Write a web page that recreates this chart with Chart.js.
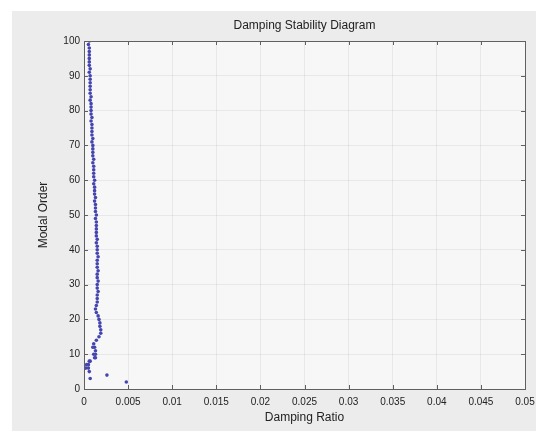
<!DOCTYPE html>
<html>
<head>
<meta charset="utf-8">
<script src="https://cdn.jsdelivr.net/npm/chart.js@4/dist/chart.umd.min.js"></script>
<style>
  html, body { margin: 0; padding: 0; background: #ffffff; }
  #wrap { width: 536px; height: 431px; position: relative; }
</style>
</head>
<body>
<div id="wrap"><canvas id="stabChart"></canvas></div>
<script>
// poles found at each model order (order, damping ratio)
const modelOrder = [
  2, 3, 4, 5, 6, 6, 7, 7, 8, 8, 9, 9, 10, 10, 11, 12,
  12, 13, 14, 15, 16, 17, 18, 19, 20, 21, 22, 23, 24, 25, 26, 27, 28, 29, 30,
  31, 32, 33, 34, 35, 36, 37, 38, 39, 40, 41, 42, 43, 44, 45, 46, 47, 48, 49, 50,
  51, 52, 53, 54, 55, 56, 57, 58, 59, 60, 61, 62, 63, 64, 65, 66, 67, 68, 69, 70,
  71, 72, 73, 74, 75, 76, 77, 78, 79, 80, 81, 82, 83, 84, 85, 86, 87, 88, 89, 90,
  91, 92, 93, 94, 95, 96, 97, 98, 99, 100
];
const dampingRatio = [
  0.0048, 0.0007, 0.0026, 0.0006, 0.0002, 0.0005, 0.0005, 0.0003, 0.0007, 0.0006, 0.0013, 0.0012, 0.0013, 0.0011, 0.0013, 0.0012,
  0.0010, 0.0011, 0.0014, 0.0017, 0.0019, 0.0019, 0.0018, 0.0018, 0.0017, 0.0016, 0.0014, 0.0013, 0.0014, 0.0015, 0.0015, 0.0015, 0.0016, 0.0015, 0.0015,
  0.0016, 0.0015, 0.0015, 0.0016, 0.0015, 0.0015, 0.0015, 0.0016, 0.0015, 0.0015, 0.0015, 0.0014, 0.0015, 0.0014, 0.0014, 0.0014, 0.0014, 0.0014, 0.0013, 0.0014,
  0.0013, 0.0013, 0.0013, 0.0012, 0.0013, 0.0012, 0.0012, 0.0012, 0.0011, 0.0012, 0.0011, 0.0011, 0.0011, 0.0011, 0.0010, 0.0011, 0.0010, 0.0010, 0.0010, 0.0010,
  0.0009, 0.0010, 0.0009, 0.0009, 0.0009, 0.0009, 0.0008, 0.0009, 0.0008, 0.0008, 0.0008, 0.0008, 0.0007, 0.0008, 0.0007, 0.0007, 0.0007, 0.0007, 0.0007, 0.0007,
  0.0006, 0.0007, 0.0006, 0.0006, 0.0006, 0.0006, 0.0006, 0.0006, 0.0005, 0.0006
];
const xTicks = [0, 0.005, 0.01, 0.015, 0.02, 0.025, 0.03, 0.035, 0.04, 0.045, 0.05];
const yTicks = [0, 10, 20, 30, 40, 50, 60, 70, 80, 90, 100];

const points = modelOrder.map((o, i) => ({x: dampingRatio[i], y: o}));

// grey figure background and lighter axes box
const figureBg = {
  id: 'figureBg',
  beforeDraw(chart) {
    const {ctx, chartArea: a} = chart;
    ctx.save();
    ctx.fillStyle = '#ececec';
    ctx.fillRect(12, 11, chart.width - 12, chart.height - 11);
    ctx.fillStyle = '#f7f7f7';
    ctx.fillRect(a.left, a.top, a.right - a.left, a.bottom - a.top);
    ctx.restore();
  }
};

// closed box with inward tick marks on all four sides, title centred over the axes
const boxTicks = {
  id: 'boxTicks',
  afterDatasetsDraw(chart) {
    const {ctx, chartArea: a, scales} = chart;
    const len = 4;
    ctx.save();
    ctx.strokeStyle = '#606060';
    ctx.lineWidth = 1;
    ctx.beginPath();
    xTicks.forEach(v => {
      const px = Math.round(scales.x.getPixelForValue(v)) + 0.5;
      ctx.moveTo(px, a.bottom); ctx.lineTo(px, a.bottom - len);
      ctx.moveTo(px, a.top); ctx.lineTo(px, a.top + len);
    });
    yTicks.forEach(v => {
      const py = Math.round(scales.y.getPixelForValue(v)) + 0.5;
      ctx.moveTo(a.left, py); ctx.lineTo(a.left + len, py);
      ctx.moveTo(a.right, py); ctx.lineTo(a.right - len, py);
    });
    ctx.stroke();
    ctx.strokeRect(Math.round(a.left) + 0.5, Math.round(a.top) + 0.5,
      Math.round(a.right - a.left), Math.round(a.bottom - a.top));

    ctx.fillStyle = '#222222';
    ctx.font = '12px "Liberation Sans"';
    ctx.textAlign = 'center';
    ctx.textBaseline = 'middle';
    ctx.fillText('Damping Stability Diagram', (a.left + a.right) / 2, a.top - 15);
    ctx.restore();
  }
};

new Chart(document.getElementById('stabChart'), {
  type: 'scatter',
  data: {
    datasets: [{
      data: points,
      backgroundColor: '#4545b0',
      borderWidth: 0,
      pointRadius: 1.8,
      pointHoverRadius: 1.8
    }]
  },
  options: {
    responsive: true,
    maintainAspectRatio: false,
    animation: false,
    layout: {padding: {left: 36, right: 11, top: 41, bottom: 6}},
    plugins: {
      legend: {display: false},
      tooltip: {enabled: false},
      title: {display: false}
    },
    scales: {
      x: {
        type: 'linear',
        min: 0,
        max: 0.05,
        afterBuildTicks(scale) { scale.ticks = xTicks.map(v => ({value: v})); },
        afterFit(scale) {
          scale.height = 36;
          scale.paddingLeft = 0;
          scale.paddingRight = 0;
        },
        grid: {
          drawTicks: false,
          color: 'rgba(0,0,0,0.06)'
        },
        border: {display: false},
        ticks: {
          padding: 7,
          color: '#222222',
          font: {family: 'Liberation Sans', size: 10},
          callback: v => String(v)
        },
        title: {
          display: true,
          text: 'Damping Ratio',
          color: '#222222',
          font: {family: 'Liberation Sans', size: 12},
          padding: 0
        }
      },
      y: {
        type: 'linear',
        min: 0,
        max: 100,
        afterBuildTicks(scale) { scale.ticks = yTicks.map(v => ({value: v})); },
        afterFit(scale) {
          scale.width = 48;
          scale.paddingTop = 0;
          scale.paddingBottom = 0;
        },
        grid: {
          drawTicks: false,
          color: 'rgba(0,0,0,0.06)'
        },
        border: {display: false},
        ticks: {
          padding: 4,
          color: '#222222',
          font: {family: 'Liberation Sans', size: 10}
        },
        title: {
          display: true,
          text: 'Modal Order',
          color: '#222222',
          font: {family: 'Liberation Sans', size: 12},
          padding: 0
        }
      }
    }
  },
  plugins: [figureBg, boxTicks]
});
</script>
</body>
</html>
